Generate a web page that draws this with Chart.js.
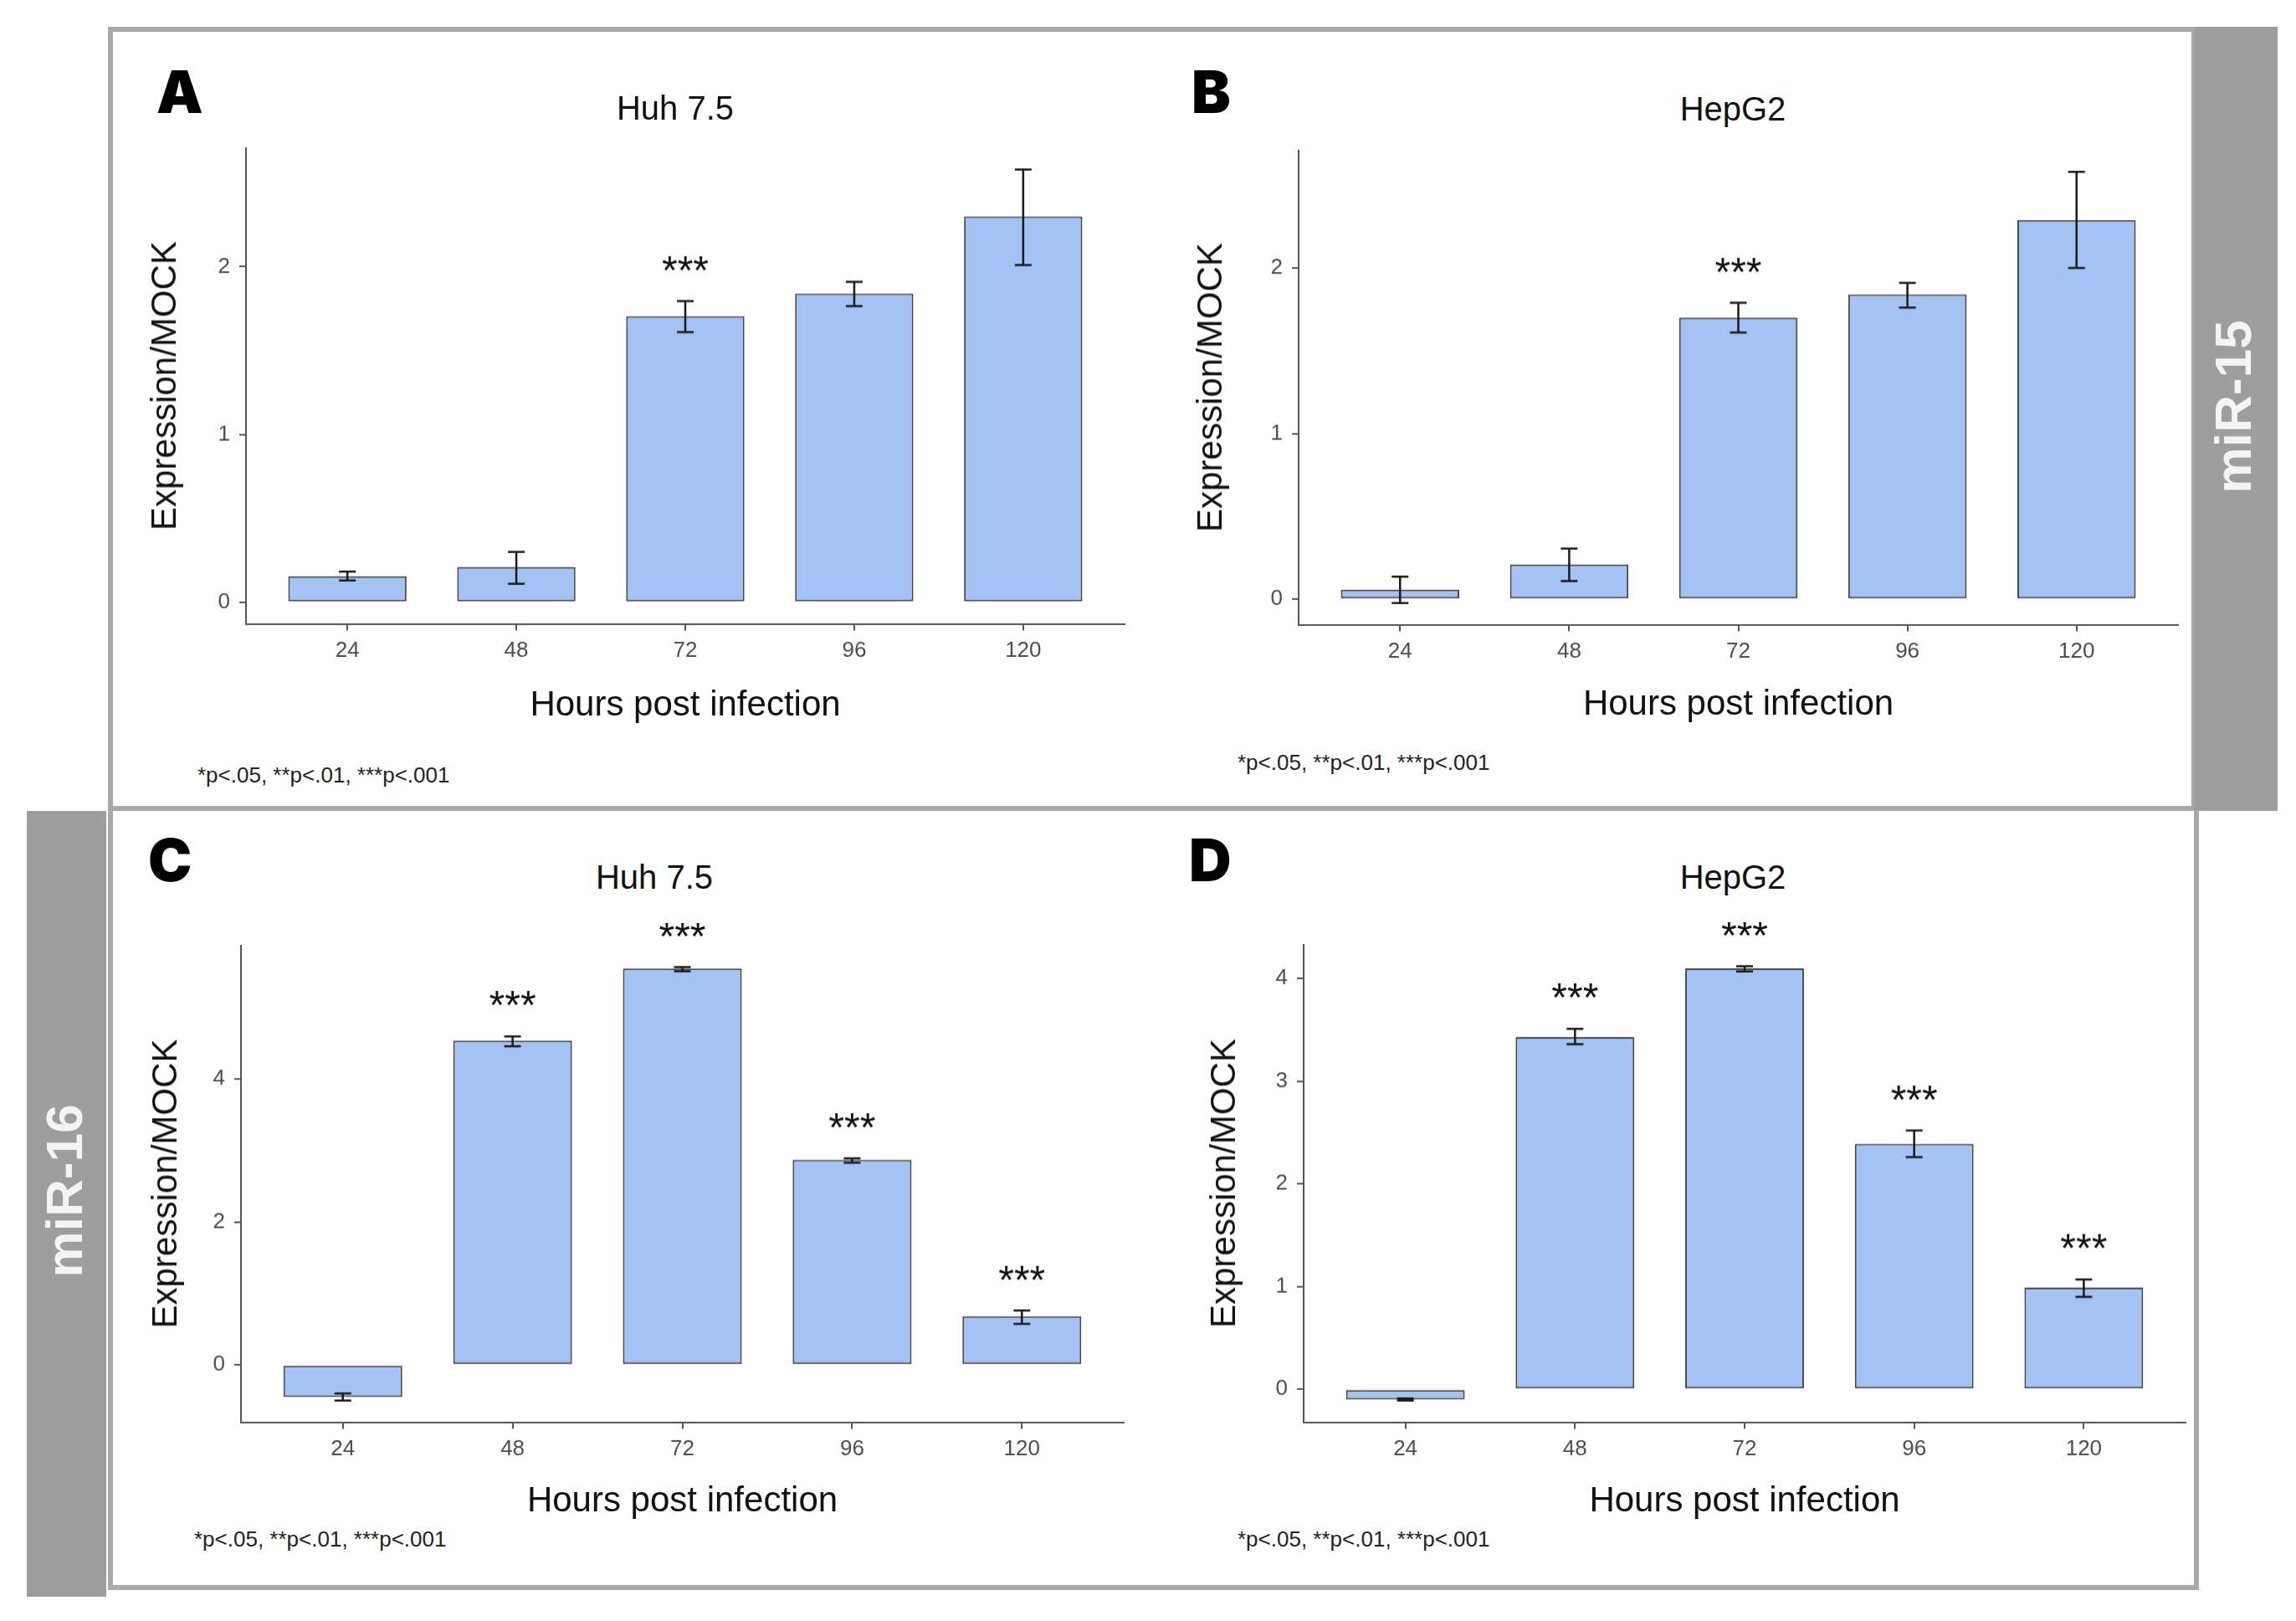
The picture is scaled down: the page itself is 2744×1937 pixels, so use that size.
<!DOCTYPE html>
<html><head><meta charset="utf-8">
<script src="https://cdn.jsdelivr.net/npm/chart.js@4.4.1/dist/chart.umd.min.js"></script>
<style>
html,body{margin:0;padding:0;background:#fff;}
#page{position:relative;width:2744px;height:1937px;overflow:hidden;background:#fff;font-family:"Liberation Sans",Arial,sans-serif;}
.box{position:absolute;border:6px solid #a9a9a9;box-sizing:border-box;}
.side{position:absolute;background:#9e9e9e;}
.side span{position:absolute;transform:translate(-50%,-50%) rotate(-90deg);color:#f4f4f4;font-weight:bold;font-size:62px;line-height:1;white-space:nowrap;}
.lbl{position:absolute;font-family:Inter,"Liberation Sans",sans-serif;font-weight:900;font-size:70px;line-height:1;color:#000;}
.ttl{position:absolute;font-size:40px;color:#111;transform:translateX(-50%);white-space:nowrap;line-height:1;}
.fn{position:absolute;font-size:26px;color:#222;white-space:nowrap;line-height:1;}
canvas{position:absolute;}
</style>
</head><body>
<div id="page">
  <div class="box" style="left:129px;top:32px;width:2496px;height:937px;"></div>
  <div class="box" style="left:129px;top:963px;width:2499px;height:937px;"></div>
  <div class="side" style="left:2622px;top:32px;width:100px;height:937px;"><span style="left:47px;top:454px;">miR-15</span></div>
  <div class="side" style="left:32px;top:969px;width:95px;height:939px;"><span style="left:45px;top:454px;">miR-16</span></div>

  <canvas id="cA"></canvas>
  <canvas id="cB"></canvas>
  <canvas id="cC"></canvas>
  <canvas id="cD"></canvas>

  <div class="lbl" style="left:187px;top:75px;">A</div>
  <div class="lbl" style="left:1424px;top:75px;">B</div>
  <div class="lbl" style="left:177px;top:993px;">C</div>
  <div class="lbl" style="left:1421px;top:993px;">D</div>

  <div class="ttl" style="left:807px;top:109px;">Huh 7.5</div>
  <div class="ttl" style="left:2071px;top:110px;">HepG2</div>
  <div class="ttl" style="left:782px;top:1028px;">Huh 7.5</div>
  <div class="ttl" style="left:2071px;top:1028px;">HepG2</div>

  <div class="fn" style="left:236px;top:913px;">*p&lt;.05, **p&lt;.01, ***p&lt;.001</div>
  <div class="fn" style="left:1479px;top:898px;">*p&lt;.05, **p&lt;.01, ***p&lt;.001</div>
  <div class="fn" style="left:232px;top:1826px;">*p&lt;.05, **p&lt;.01, ***p&lt;.001</div>
  <div class="fn" style="left:1479px;top:1826px;">*p&lt;.05, **p&lt;.01, ***p&lt;.001</div>
</div>
<script>
// ---- data ----
const categories = ["24", "48", "72", "96", "120"];

const huh15    = [0.155, 0.21, 1.705, 1.84, 2.30];
const huh15Lo  = [0.13, 0.11, 1.61, 1.765, 2.01];
const huh15Hi  = [0.183, 0.30, 1.795, 1.91, 2.58];
const huh15Sig = ["", "", "***", "", ""];

const hep15    = [0.058, 0.21, 1.70, 1.84, 2.29];
const hep15Lo  = [-0.024, 0.11, 1.61, 1.76, 2.00];
const hep15Hi  = [0.136, 0.305, 1.79, 1.91, 2.58];
const hep15Sig = ["", "", "***", "", ""];

const huh16    = [-0.45, 4.54, 5.55, 2.87, 0.68];
const huh16Lo  = [-0.50, 4.46, 5.51, 2.83, 0.575];
const huh16Hi  = [-0.40, 4.60, 5.57, 2.89, 0.76];
const huh16Sig = ["", "***", "***", "***", "***"];

const hep16    = [-0.10, 3.43, 4.10, 2.39, 0.99];
const hep16Lo  = [-0.11, 3.36, 4.07, 2.26, 0.90];
const hep16Hi  = [-0.09, 3.51, 4.12, 2.52, 1.07];
const hep16Sig = ["", "***", "***", "***", "***"];

const ticks15     = [0, 1, 2];
const ticksHuh16  = [0, 2, 4];
const ticksHep16  = [0, 1, 2, 3, 4];

const xTitle = "Hours post infection";
const yTitle = "Expression/MOCK";

// ---- rendering ----
Chart.defaults.font.family = "'Liberation Sans', Arial, sans-serif";
Chart.defaults.devicePixelRatio = 1;

const errPlugin = {
  id: 'errbars',
  afterDatasetsDraw(chart, args, opts) {
    const {ctx, scales: {x, y}} = chart;
    ctx.save();
    ctx.strokeStyle = '#1a1a1a';
    ctx.lineWidth = 2.5;
    ctx.fillStyle = '#111';
    ctx.font = "48px 'Liberation Sans', Arial, sans-serif";
    ctx.textAlign = 'center';
    ctx.textBaseline = 'middle';
    opts.lo.forEach((l, i) => {
      const px = x.getPixelForValue(i);
      const yl = y.getPixelForValue(l);
      const yh = y.getPixelForValue(opts.hi[i]);
      ctx.beginPath();
      ctx.moveTo(px, yl); ctx.lineTo(px, yh);
      ctx.moveTo(px - 10, yl); ctx.lineTo(px + 10, yl);
      ctx.moveTo(px - 10, yh); ctx.lineTo(px + 10, yh);
      ctx.stroke();
      if (opts.sig[i]) ctx.fillText(opts.sig[i], px, yh - 34);
    });
    ctx.restore();
  }
};

function makePanel(id, target, vals, lo, hi, sig, yTicks, yW, xH) {
  const canvas = document.getElementById(id);
  const lowV = Math.min(0, ...lo), highV = Math.max(0, ...hi);
  const ex = 0.05 * (highV - lowV);
  const PADT = 20, PADR = 20;
  const W = target.right - target.left, H = target.bottom - target.top;
  canvas.width = yW + W + PADR;
  canvas.height = PADT + H + xH;
  const chart = new Chart(canvas, {
    type: 'bar',
    data: {
      datasets: [{
        data: vals.map((v, i) => ({x: i, y: v})),
        backgroundColor: '#a4c2f4',
        borderColor: '#474747',
        borderWidth: 2,
        borderSkipped: false,
        categoryPercentage: 1,
        barPercentage: 0.7
      }]
    },
    options: {
      responsive: false,
      maintainAspectRatio: false,
      animation: false,
      layout: {padding: {left: 0, top: PADT, right: PADR, bottom: 0}},
      plugins: {
        legend: {display: false},
        tooltip: {enabled: false},
        errbars: {lo: lo, hi: hi, sig: sig}
      },
      scales: {
        x: {
          type: 'linear',
          min: -0.6, max: categories.length - 0.4,
          offset: false,
          afterBuildTicks: s => { s.ticks = categories.map((c, i) => ({value: i})); },
          afterFit: s => { s.height = xH; },
          ticks: {callback: v => categories[v], color: '#4d4d4d', font: {size: 26}, padding: 9, maxRotation: 0, autoSkip: false},
          grid: {display: true, offset: false, drawOnChartArea: false, drawTicks: true, tickLength: 8, color: '#555', lineWidth: 2},
          border: {display: true, color: '#555', width: 2},
          title: {display: true, text: xTitle, color: '#111', font: {size: 42}, padding: 0}
        },
        y: {
          type: 'linear',
          min: lowV - ex, max: highV + ex,
          afterBuildTicks: s => { s.ticks = yTicks.map(v => ({value: v})); },
          afterFit: s => { s.width = yW; },
          ticks: {callback: v => String(v), color: '#4d4d4d', font: {size: 26}, padding: 11},
          grid: {display: true, drawOnChartArea: false, drawTicks: true, tickLength: 8, color: '#555', lineWidth: 2},
          border: {display: true, color: '#555', width: 2},
          title: {display: true, text: yTitle, color: '#111', font: {size: 42}, padding: 0}
        }
      }
    },
    plugins: [errPlugin]
  });
  // fit chart area exactly onto the target box
  let ca = chart.chartArea;
  const dw = W - (ca.right - ca.left), dh = H - (ca.bottom - ca.top);
  if (Math.abs(dw) > 0.5 || Math.abs(dh) > 0.5) {
    chart.resize(canvas.width + dw, canvas.height + dh);
    ca = chart.chartArea;
  }
  canvas.style.left = (target.left - ca.left) + 'px';
  canvas.style.top = (target.top - ca.top) + 'px';
}

makePanel('cA', {left: 294, top: 177, right: 1344, bottom: 745}, huh15, huh15Lo, huh15Hi, huh15Sig, ticks15, 121, 123);
makePanel('cB', {left: 1552, top: 180, right: 2603, bottom: 746}, hep15, hep15Lo, hep15Hi, hep15Sig, ticks15, 129, 121);
makePanel('cC', {left: 288, top: 1130, right: 1343, bottom: 1699}, huh16, huh16Lo, huh16Hi, huh16Sig, ticksHuh16, 114, 120);
makePanel('cD', {left: 1558, top: 1129, right: 2612, bottom: 1699}, hep16, hep16Lo, hep16Hi, hep16Sig, ticksHep16, 119, 120);
</script>
</body></html>
